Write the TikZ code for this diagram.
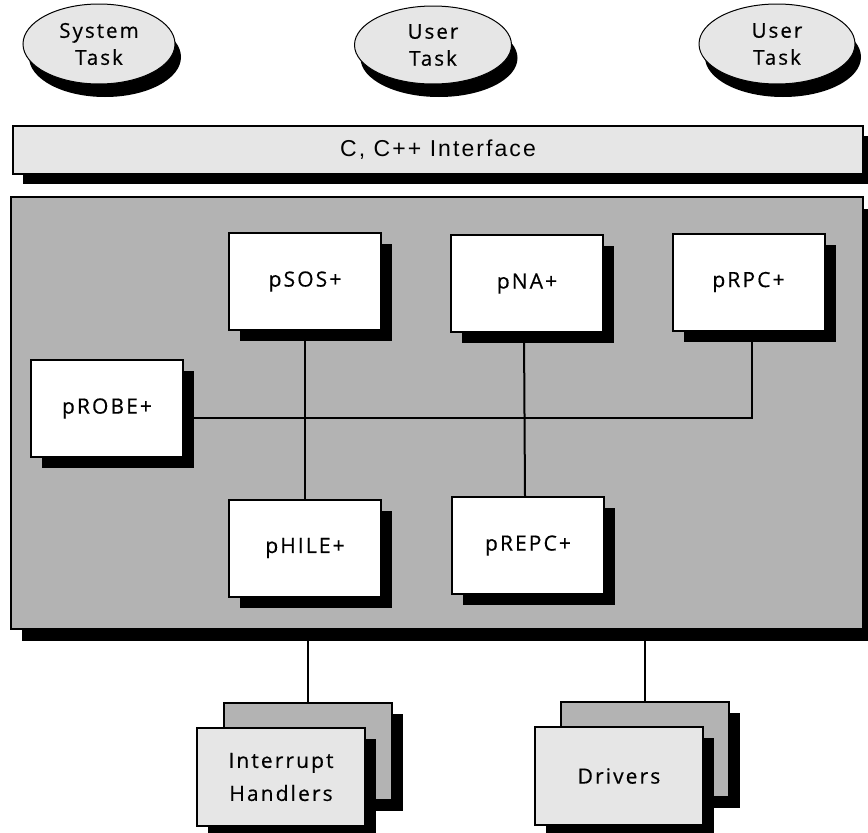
\documentclass[tikz,border=0pt]{standalone}
\usepackage{fontspec}
\setmainfont{Open Sans}[LetterSpace=10,FakeBold=0.4]
\newfontfamily\ifacefont{Liberation Sans}[LetterSpace=9]
\usetikzlibrary{shapes.geometric,shadows}
\definecolor{lightg}{HTML}{E6E6E6}
\definecolor{midg}{HTML}{B3B3B3}
\tikzset{
  boxshadow/.style={drop shadow={shadow xshift=11pt,shadow yshift=-11pt,fill=black,opacity=1}},
  taskell/.style={ellipse,draw,line width=1pt,fill=lightg,inner sep=0pt,align=center,font=\fontsize{20.5}{27}\selectfont,
     drop shadow={shadow xshift=6pt,shadow yshift=-13pt,fill=black,opacity=1}},
  module/.style={rectangle,draw,line width=2pt,fill=white,inner sep=0pt,minimum width=152pt,minimum height=97pt,
     font=\fontsize{21}{24}\selectfont,boxshadow},
  front/.style={rectangle,draw,line width=2pt,fill=lightg,inner sep=0pt,minimum width=168pt,minimum height=98pt,
     align=center,font=\fontsize{21}{33}\selectfont,boxshadow},
  back/.style={rectangle,draw,line width=2pt,fill=midg,inner sep=0pt,minimum width=168pt,minimum height=97pt,boxshadow},
  conn/.style={line width=2pt},
}
\begin{document}
\begin{tikzpicture}[x=1pt,y=-1pt]
\useasboundingbox (0,0) rectangle (868,833);
% tasks
\node[taskell,minimum width=152pt,minimum height=80pt] (sys) at (99,44) {System\\Task};
\node[taskell,minimum width=157pt,minimum height=78pt] (user1) at (433,45) {User\\Task};
\node[taskell,minimum width=156pt,minimum height=80pt] (user2) at (777,44) {User\\Task};
% interface
\node[rectangle,draw,line width=1.2pt,fill=lightg,minimum width=850pt,minimum height=48pt,inner sep=0pt,
   font=\ifacefont\fontsize{23}{26}\selectfont,drop shadow={shadow xshift=10pt,shadow yshift=-10pt,fill=black,opacity=1}]
   (iface) at (438,150) {C, C++ Interface};
% main box
\node[rectangle,draw,line width=1.5pt,fill=midg,minimum width=852pt,minimum height=432pt,inner sep=0pt,
   drop shadow={shadow xshift=11pt,shadow yshift=-12pt,fill=black,opacity=1}] (main) at (437,413) {};
% bus level
\coordinate (busy) at (0,418);
% modules
\node[module] (psos) at (305,281.5) {pSOS+};
\node[module] (pna) at (527,283.5) {pNA+};
\node[module] (prpc) at (748.5,282) {pRPC+};
\node[module] (probe) at (107,408.5) {pROBE+};
\node[module] (phile) at (305,548) {pHILE+};
\node[module] (prepc) at (528,545.5) {pREPC+};
\draw[conn] (psos.south) -- (phile.north);
\draw[conn] ([xshift=-3pt]pna.south) -- ([xshift=-3pt]prepc.north);
\draw[conn] (probe.east |- busy) -| ([xshift=3.5pt]prpc.south);
% bottom
\node[back] (intback) at (307.5,751.5) {};
\node[back,minimum height=95pt] (drvback) at (645,749.5) {};
\draw[conn] (intback.north) -- (intback.north |- main.south);
\draw[conn] (drvback.north) -- (drvback.north |- main.south);
\node[front] (inth) at (281,777) {Interrupt\\Handlers};
\node[front] (drv) at (619,776) {Drivers};
\end{tikzpicture}
\end{document}
